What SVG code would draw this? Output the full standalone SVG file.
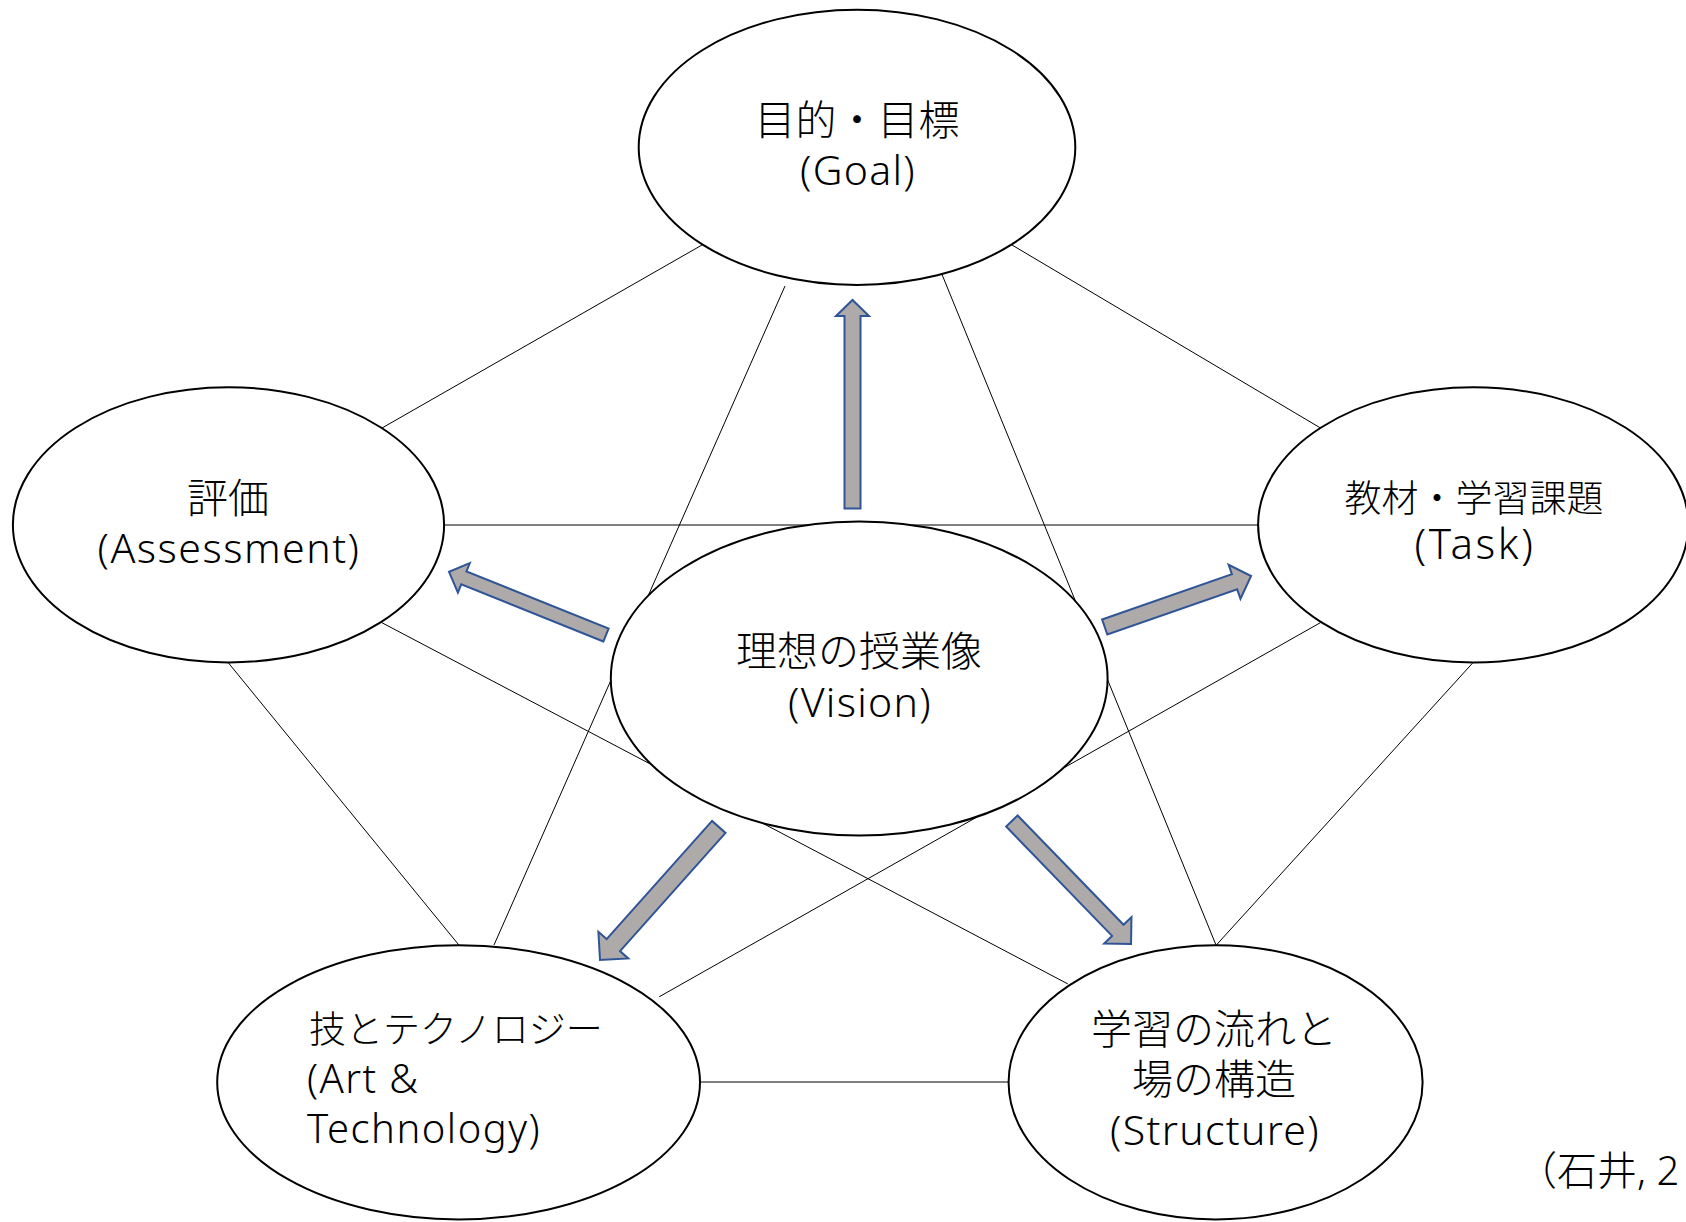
<svg xmlns="http://www.w3.org/2000/svg" width="1686" height="1222" viewBox="0 0 1686 1222">
<style>
.node{fill:#ffffff;stroke:#000000;stroke-width:2}
.conn{fill:none;stroke:#000000;stroke-width:1}
.arrow{fill:#aeaaaa;stroke:#2f5597;stroke-width:2;stroke-linejoin:miter}
.t{font-family:"Noto Sans","Noto Sans CJK JP",sans-serif;font-size:41px;font-weight:300;fill:#000000;text-anchor:middle}
.s{font-family:"Noto Sans","Noto Sans CJK JP",sans-serif;font-size:40px;font-weight:300;fill:#000000}
.l{letter-spacing:1.3px}
</style>
<rect width="1686" height="1222" fill="#ffffff"/>
<g id="connectors">
<path class="conn" d="M702,245 L382,428"/>
<path class="conn" d="M1012,245 L1320.5,428"/>
<path class="conn" d="M444,525 L1258,525"/>
<path class="conn" d="M785,286 L648.3,595.5 M610.8,680.5 L494,945"/>
<path class="conn" d="M941,272 L1075.6,601.4 M1107.6,679.8 L1216,945"/>
<path class="conn" d="M228,662.4 L459,945.2"/>
<path class="conn" d="M381.7,622.6 L651.6,764.7 M762.6,823.2 L1067.8,983.9"/>
<path class="conn" d="M1320.5,622.6 L1062.9,768.4 M978.1,816.4 L659.2,996.8"/>
<path class="conn" d="M1473.2,662.4 L1216.2,945.2"/>
<path class="conn" d="M700,1082 L1008.6,1082"/>
</g>
<g id="node-goal">
<ellipse class="node" cx="857" cy="147.3" rx="218.3" ry="137.6"/>
<text class="t" x="857" y="135">目的・目標</text>
<text class="t l" x="858" y="185">(Goal)</text>
</g>
<g id="node-assessment">
<ellipse class="node" cx="228.5" cy="524.8" rx="215.6" ry="137.6"/>
<text class="t" x="228" y="513">評価</text>
<text class="t l" x="229" y="563" style="letter-spacing:1.5px">(Assessment)</text>
</g>
<g id="node-task">
<ellipse class="node" cx="1473.2" cy="524.8" rx="215.1" ry="137.6"/>
<text class="t" x="1474" y="512" style="font-size:37px">教材・学習課題</text>
<text class="t l" x="1475" y="559" style="font-size:42px;letter-spacing:2.6px">(Task)</text>
</g>
<g id="node-vision">
<ellipse class="node" cx="859.2" cy="678.5" rx="248.4" ry="157"/>
<text class="t" x="859" y="666">理想の授業像</text>
<text class="t l" x="860" y="717">(Vision)</text>
</g>
<g id="node-art">
<ellipse class="node" cx="458.6" cy="1082.3" rx="241.4" ry="137.1"/>
<text class="s" x="309" y="1043" style="font-size:37px">技とテクノロジー</text>
<text class="s l" x="307" y="1093" style="letter-spacing:1.4px">(Art &amp;</text>
<text class="s l" x="307" y="1143" style="letter-spacing:1.5px">Technology)</text>
</g>
<g id="node-structure">
<ellipse class="node" cx="1215.6" cy="1082.3" rx="207" ry="137.1"/>
<text class="t" x="1214" y="1044">学習の流れと</text>
<text class="t" x="1214" y="1094">場の構造</text>
<text class="t l" x="1215" y="1145">(Structure)</text>
</g>
<g id="arrows">
<polygon class="arrow" transform="translate(852.5,508.5) rotate(-90)" points="0,-8 192.5,-8 192.5,-16.5 208.5,0 192.5,16.5 192.5,8 0,8"/>
<polygon class="arrow" transform="translate(606,635) rotate(201.9)" points="0,-7 153.2,-7 153.2,-16 169.2,0 153.2,16 153.2,7 0,7"/>
<polygon class="arrow" transform="translate(1104.7,627) rotate(-19.2)" points="0,-8 137.5,-8 137.5,-18 155,0 137.5,18 137.5,8 0,8"/>
<polygon class="arrow" transform="translate(718.8,826.9) rotate(131.75)" points="0,-9 158.4,-9 158.4,-20 178.4,0 158.4,20 158.4,9 0,9"/>
<polygon class="arrow" transform="translate(1011.9,821) rotate(45.9)" points="0,-8 152.2,-8 152.2,-19 171.2,0 152.2,19 152.2,8 0,8"/>
</g>
<text class="s" x="1517" y="1185">（石井, 2</text>
</svg>
